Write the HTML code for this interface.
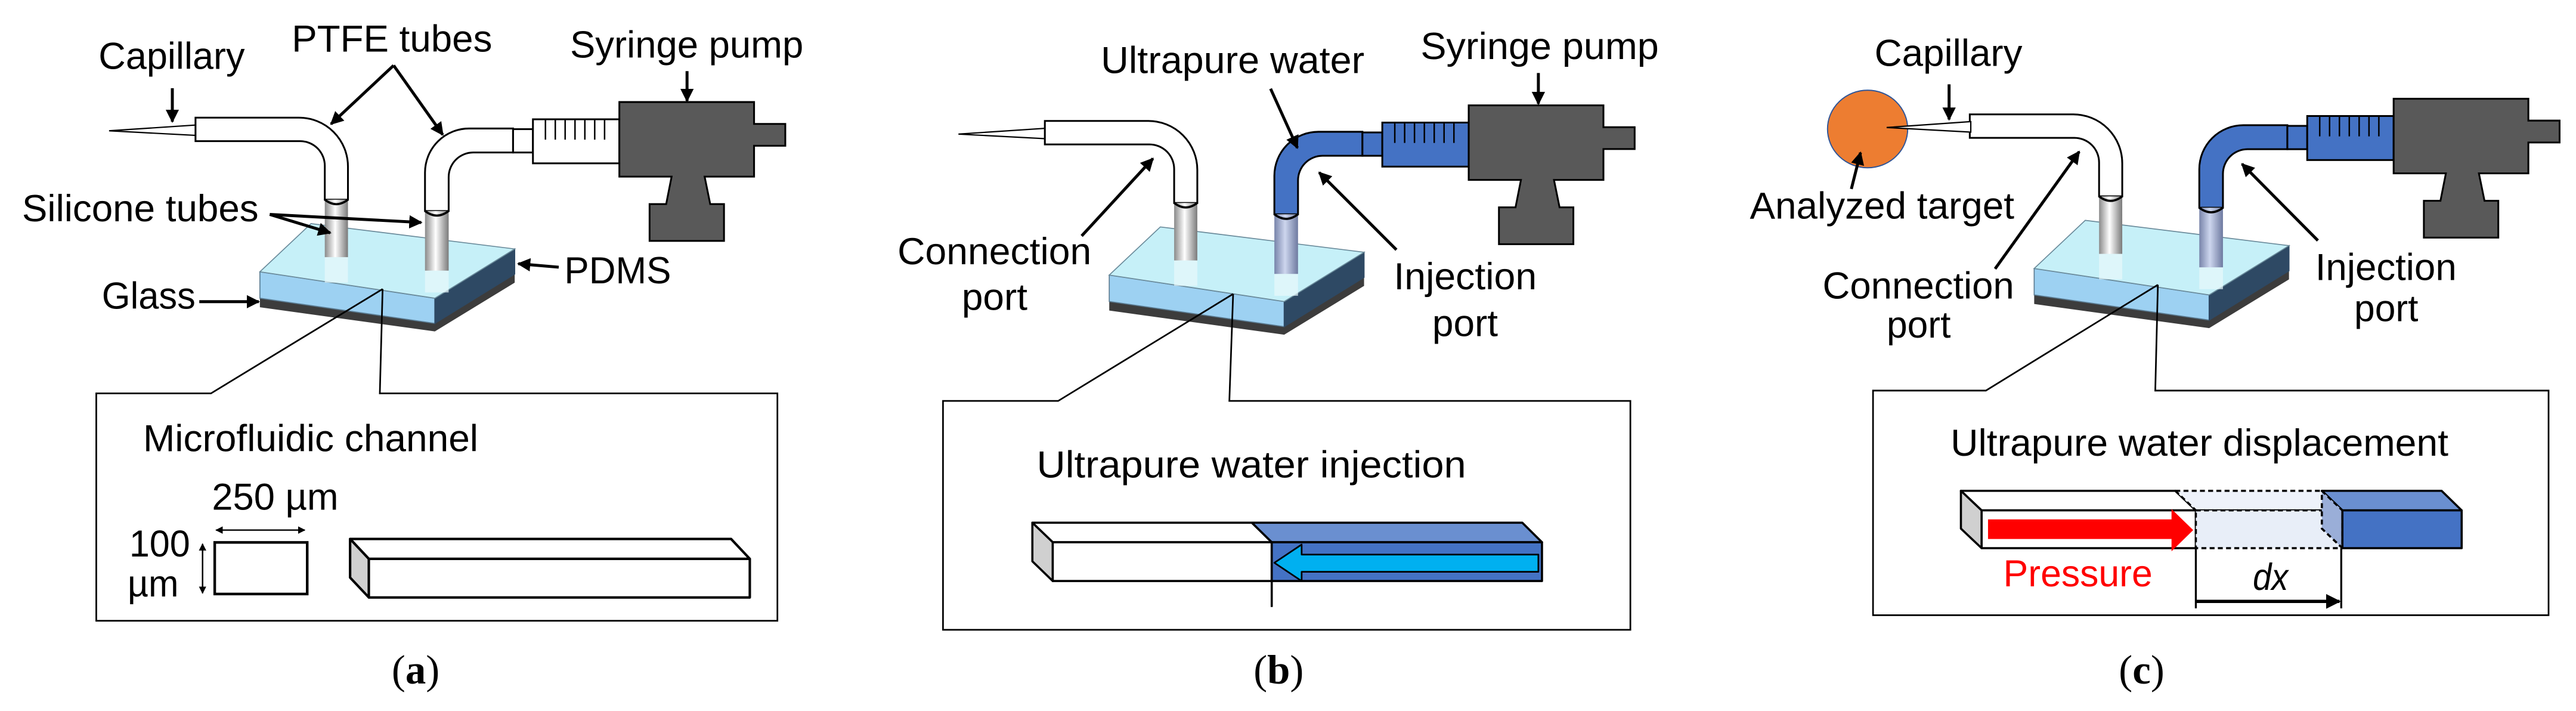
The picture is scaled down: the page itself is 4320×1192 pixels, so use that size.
<!DOCTYPE html>
<html><head><meta charset="utf-8"><style>
html,body{margin:0;padding:0;background:#fff;}
svg{display:block;}
text{font-family:"Liberation Sans",Arial,sans-serif;font-size:23px;fill:#000;}
.sf{font-family:"Liberation Serif","Times New Roman",serif;font-size:25px;}
</style></head><body>
<svg width="4320" height="1192" viewBox="0 0 1568 432.7" preserveAspectRatio="none" xmlns="http://www.w3.org/2000/svg">
<defs>
<marker id="ah" viewBox="0 0 10 10" refX="9" refY="5" markerWidth="4.5" markerHeight="4.5" orient="auto"><path d="M0,0 L10,5 L0,10 z" fill="#000"/></marker>
<marker id="ah2" viewBox="0 0 10 10" refX="9" refY="5" markerWidth="5" markerHeight="5" orient="auto-start-reverse"><path d="M0,0 L10,5 L0,10 z" fill="#000"/></marker>
<linearGradient id="sil" x1="0" x2="1" y1="0" y2="0"><stop offset="0" stop-color="#8a8a8a"/><stop offset="0.45" stop-color="#ffffff"/><stop offset="1" stop-color="#7a7a7a"/></linearGradient>
<linearGradient id="silb" x1="0" x2="1" y1="0" y2="0"><stop offset="0" stop-color="#7884aa"/><stop offset="0.45" stop-color="#cdd6ee"/><stop offset="1" stop-color="#6e7aa0"/></linearGradient>
</defs>

<!-- ================= PANEL A ================= -->
<g id="devA" stroke="#000" stroke-width="1.1">
  <polygon points="158.2,181.5 264.7,196.8 313.3,166.8 313.3,172 264.7,201.7 158.2,187" fill="#3c3c3c" stroke="none"/>
  <polygon points="158.2,165.4 264.7,181.5 264.7,196.8 158.2,181.5" fill="#9dd1f2" stroke="#5a7a90" stroke-width="0.6"/>
  <polygon points="264.7,181.5 313.3,151.5 313.3,166.8 264.7,196.8" fill="#2e4964" stroke="#2e4964" stroke-width="0.6"/>
  <polygon points="158.2,165.4 189.3,136.1 313.3,151.5 264.7,181.5" fill="#c6f0f8" stroke="#6a8a9a" stroke-width="0.6"/>
  <rect x="197.7" y="150" width="14.1" height="22" fill="#e8f8fb" stroke="none" opacity="0.7"/>
  <rect x="258.7" y="158" width="14.4" height="20" fill="#e8f8fb" stroke="none" opacity="0.7"/>
  <polygon points="66.4,79.6 119,76.1 119,82.4" fill="#fff" stroke-width="0.8"/>
  <path d="M119,71.6 H182 A29.8,29.8 0 0 1 211.8,101.4 V121.5 H197.7 V101 A15,15 0 0 0 182.7,85.9 H119 Z" fill="#fff"/>
  <rect x="197.7" y="121.5" width="14.1" height="35" fill="url(#sil)" stroke="none"/>
  <path d="M197.7,121.5 Q204.7,127 211.8,121.5" fill="none" stroke-width="1.3"/>
  <path d="M258.7,128.4 V105 A26.8,26.8 0 0 1 285.5,78.2 H312.3 V92.8 H288 A15,15 0 0 0 273.1,107.8 V128.4 Z" fill="#fff"/>
  <rect x="258.7" y="128.4" width="14.4" height="36.3" fill="url(#sil)" stroke="none"/>
  <path d="M258.7,128.4 Q265.9,134 273.1,128.4" fill="none" stroke-width="1.3"/>
  <rect x="312.3" y="78.6" width="12.1" height="14.2" fill="#fff"/>
  <rect x="324.4" y="72.6" width="52.6" height="26.8" fill="#fff"/>
  <path d="M332,72.6V85 M338,72.6V85 M344,72.6V85 M350,72.6V85 M356,72.6V85 M362,72.6V85 M368,72.6V85" stroke-width="0.9"/>
  <path d="M377,62.1 H459 V75.4 H478 V88.7 H459 V107.5 H428.9 L432.3,124.2 H440.7 V146.6 H395.4 V124.2 H405.5 L408.8,107.5 H377 Z" fill="#595959"/>
</g>
<g fill="none" stroke="#000" stroke-width="1.8" marker-end="url(#ah)">
  <line x1="104.9" y1="53.7" x2="104.9" y2="74"/>
  <line x1="239.6" y1="39.8" x2="201.5" y2="75.5"/>
  <line x1="239.6" y1="39.8" x2="269.5" y2="82"/>
  <line x1="418.2" y1="43.3" x2="418.2" y2="61.4"/>
  <line x1="164.2" y1="130.5" x2="201" y2="141.7"/>
  <line x1="164.2" y1="130.5" x2="256.4" y2="135.4"/>
  <line x1="340.1" y1="162.6" x2="315.5" y2="160.5"/>
  <line x1="121.3" y1="183.6" x2="157.5" y2="183.6"/>
</g>
<text x="60" y="41.9" textLength="89" lengthAdjust="spacingAndGlyphs">Capillary</text>
<text x="177.6" y="31.4" textLength="122" lengthAdjust="spacingAndGlyphs">PTFE tubes</text>
<text x="347" y="35" textLength="142" lengthAdjust="spacingAndGlyphs">Syringe pump</text>
<text x="13.4" y="134.7" textLength="144" lengthAdjust="spacingAndGlyphs">Silicone tubes</text>
<text x="343.5" y="172.4" textLength="65" lengthAdjust="spacingAndGlyphs">PDMS</text>
<text x="62" y="187.8" textLength="57" lengthAdjust="spacingAndGlyphs">Glass</text>
<g fill="none" stroke="#000" stroke-width="1">
  <polyline points="232.9,175.9 128.4,239.4 58.6,239.4 58.6,377.8 473.2,377.8 473.2,239.4 231.2,239.4 232.9,175.9"/>
</g>
<text x="87.1" y="274.6" textLength="204" lengthAdjust="spacingAndGlyphs">Microfluidic channel</text>
<text x="129" y="310.2" textLength="77" lengthAdjust="spacingAndGlyphs">250 µm</text>
<text x="78.7" y="338.7" textLength="37" lengthAdjust="spacingAndGlyphs">100</text>
<text x="77.7" y="363" textLength="31" lengthAdjust="spacingAndGlyphs">µm</text>
<line x1="131.5" y1="322.6" x2="185.5" y2="322.6" stroke="#000" stroke-width="0.9" marker-start="url(#ah2)" marker-end="url(#ah2)"/>
<line x1="123.3" y1="331" x2="123.3" y2="361" stroke="#000" stroke-width="0.9" marker-start="url(#ah2)" marker-end="url(#ah2)"/>
<rect x="130.7" y="330.1" width="56.3" height="31.4" fill="#fff" stroke="#000" stroke-width="1.6"/>
<g stroke="#000" stroke-width="1.5" stroke-linejoin="round">
  <polygon points="213.1,328 445,328 456.4,340.1 224.5,340.1" fill="#fff"/>
  <polygon points="213.1,328 224.5,340.1 224.5,363.6 213.1,351.5" fill="#d0d0d0"/>
  <rect x="224.5" y="340.1" width="231.9" height="23.5" fill="#fff"/>
</g>
<text class="sf" x="253" y="416" text-anchor="middle">(<tspan font-weight="bold">a</tspan>)</text>

<!-- ================= PANEL B ================= -->
<g transform="translate(517,2)" stroke="#000" stroke-width="1.1">
  <polygon points="158.2,181.5 264.7,196.8 313.3,166.8 313.3,172 264.7,201.7 158.2,187" fill="#3c3c3c" stroke="none"/>
  <polygon points="158.2,165.4 264.7,181.5 264.7,196.8 158.2,181.5" fill="#9dd1f2" stroke="#5a7a90" stroke-width="0.6"/>
  <polygon points="264.7,181.5 313.3,151.5 313.3,166.8 264.7,196.8" fill="#2e4964" stroke="#2e4964" stroke-width="0.6"/>
  <polygon points="158.2,165.4 189.3,136.1 313.3,151.5 264.7,181.5" fill="#c6f0f8" stroke="#6a8a9a" stroke-width="0.6"/>
  <rect x="197.7" y="150" width="14.1" height="22" fill="#e8f8fb" stroke="none" opacity="0.7"/>
  <rect x="258.7" y="158" width="14.4" height="20" fill="#e8f8fb" stroke="none" opacity="0.7"/>
  <polygon points="66.4,79.6 119,76.1 119,82.4" fill="#fff" stroke-width="0.8"/>
  <path d="M119,71.6 H182 A29.8,29.8 0 0 1 211.8,101.4 V121.5 H197.7 V101 A15,15 0 0 0 182.7,85.9 H119 Z" fill="#fff"/>
  <rect x="197.7" y="121.5" width="14.1" height="35" fill="url(#sil)" stroke="none"/>
  <path d="M197.7,121.5 Q204.7,127 211.8,121.5" fill="none" stroke-width="1.3"/>
  <path d="M258.7,128.4 V105 A26.8,26.8 0 0 1 285.5,78.2 H312.3 V92.8 H288 A15,15 0 0 0 273.1,107.8 V128.4 Z" fill="#4472c4"/>
  <rect x="258.7" y="128.4" width="14.4" height="36.3" fill="url(#silb)" stroke="none"/>
  <path d="M258.7,128.4 Q265.9,134 273.1,128.4" fill="none" stroke-width="1.3"/>
  <rect x="312.3" y="78.6" width="12.1" height="14.2" fill="#4472c4"/>
  <rect x="324.4" y="72.6" width="52.6" height="26.8" fill="#4472c4"/>
  <path d="M332,72.6V85 M338,72.6V85 M344,72.6V85 M350,72.6V85 M356,72.6V85 M362,72.6V85 M368,72.6V85" stroke-width="0.9"/>
  <path d="M377,62.1 H459 V75.4 H478 V88.7 H459 V107.5 H428.9 L432.3,124.2 H440.7 V146.6 H395.4 V124.2 H405.5 L408.8,107.5 H377 Z" fill="#595959"/>
</g>
<g fill="none" stroke="#000" stroke-width="1.8" marker-end="url(#ah)">
  <line x1="773.4" y1="54" x2="789.7" y2="90"/>
  <line x1="936.4" y1="44.4" x2="936.4" y2="63.2"/>
  <line x1="658.4" y1="143.6" x2="701.8" y2="96.5"/>
  <line x1="850" y1="152" x2="803" y2="105"/>
</g>
<text x="670.1" y="44.4" textLength="160.4" lengthAdjust="spacingAndGlyphs">Ultrapure water</text>
<text x="864.7" y="36" textLength="145" lengthAdjust="spacingAndGlyphs">Syringe pump</text>
<text x="546.3" y="160.8" textLength="118" lengthAdjust="spacingAndGlyphs">Connection</text>
<text x="585.4" y="188.6" textLength="40" lengthAdjust="spacingAndGlyphs">port</text>
<text x="848.4" y="176" textLength="87" lengthAdjust="spacingAndGlyphs">Injection</text>
<text x="871.8" y="204.5" textLength="40" lengthAdjust="spacingAndGlyphs">port</text>
<polyline points="750.6,178.9 644.1,244 574,244 574,383.3 992.4,383.3 992.4,244 748.3,244 750.6,178.9" fill="none" stroke="#000" stroke-width="1"/>
<text x="631" y="290.6" textLength="261.4" lengthAdjust="spacingAndGlyphs">Ultrapure water  injection</text>
<g stroke="#000" stroke-width="1.3" stroke-linejoin="round">
  <polygon points="628.4,318.1 762,318.1 774.1,330 640.8,330" fill="#fff"/>
  <polygon points="762,318.1 926.6,318.1 938.6,330 774.1,330" fill="#6a8fd0"/>
  <polygon points="628.4,318.1 640.8,330 640.8,353.6 628.4,341.6" fill="#d0d0d0"/>
  <rect x="640.8" y="330" width="133.3" height="23.6" fill="#fff"/>
  <rect x="774.1" y="330" width="164.5" height="23.6" fill="#4472c4"/>
  <polygon points="775.7,342.5 792.3,331.4 792.3,337.5 936.4,337.5 936.4,348 792.3,348 792.3,353.6" fill="#00b0f0" stroke-width="1"/>
  <line x1="774.1" y1="330" x2="774.1" y2="369.4"/>
</g>
<text class="sf" x="778.3" y="416" text-anchor="middle">(<tspan font-weight="bold">b</tspan>)</text>

<!-- ================= PANEL C ================= -->
<g transform="translate(1080,-2)" stroke="#000" stroke-width="1.1">
  <polygon points="158.2,181.5 264.7,196.8 313.3,166.8 313.3,172 264.7,201.7 158.2,187" fill="#3c3c3c" stroke="none"/>
  <polygon points="158.2,165.4 264.7,181.5 264.7,196.8 158.2,181.5" fill="#9dd1f2" stroke="#5a7a90" stroke-width="0.6"/>
  <polygon points="264.7,181.5 313.3,151.5 313.3,166.8 264.7,196.8" fill="#2e4964" stroke="#2e4964" stroke-width="0.6"/>
  <polygon points="158.2,165.4 189.3,136.1 313.3,151.5 264.7,181.5" fill="#c6f0f8" stroke="#6a8a9a" stroke-width="0.6"/>
  <rect x="197.7" y="150" width="14.1" height="22" fill="#e8f8fb" stroke="none" opacity="0.7"/>
  <rect x="258.7" y="158" width="14.4" height="20" fill="#e8f8fb" stroke="none" opacity="0.7"/>
  <path d="M119,71.6 H182 A29.8,29.8 0 0 1 211.8,101.4 V121.5 H197.7 V101 A15,15 0 0 0 182.7,85.9 H119 Z" fill="#fff"/>
  <rect x="197.7" y="121.5" width="14.1" height="35" fill="url(#sil)" stroke="none"/>
  <path d="M197.7,121.5 Q204.7,127 211.8,121.5" fill="none" stroke-width="1.3"/>
  <path d="M258.7,128.4 V105 A26.8,26.8 0 0 1 285.5,78.2 H312.3 V92.8 H288 A15,15 0 0 0 273.1,107.8 V128.4 Z" fill="#4472c4"/>
  <rect x="258.7" y="128.4" width="14.4" height="36.3" fill="url(#silb)" stroke="none"/>
  <path d="M258.7,128.4 Q265.9,134 273.1,128.4" fill="none" stroke-width="1.3"/>
  <rect x="312.3" y="78.6" width="12.1" height="14.2" fill="#4472c4"/>
  <rect x="324.4" y="72.6" width="52.6" height="26.8" fill="#4472c4"/>
  <path d="M332,72.6V85 M338,72.6V85 M344,72.6V85 M350,72.6V85 M356,72.6V85 M362,72.6V85 M368,72.6V85" stroke-width="0.9"/>
  <path d="M377,62.1 H459 V75.4 H478 V88.7 H459 V107.5 H428.9 L432.3,124.2 H440.7 V146.6 H395.4 V124.2 H405.5 L408.8,107.5 H377 Z" fill="#595959"/>
</g>
<ellipse cx="1136.8" cy="78.5" rx="24.4" ry="23.6" fill="#ed7d31" stroke="#2f5597" stroke-width="0.7"/>
<polygon points="1148.4,77.6 1199.6,74 1199.6,80.4" fill="#fff" stroke="#000" stroke-width="0.8"/>
<g fill="none" stroke="#000" stroke-width="1.8" marker-end="url(#ah)">
  <line x1="1186.4" y1="51.3" x2="1186.4" y2="72.7"/>
  <line x1="1126.9" y1="115" x2="1132.5" y2="92.9"/>
  <line x1="1214.4" y1="163.6" x2="1265.6" y2="92.3"/>
  <line x1="1410.9" y1="146.4" x2="1364.7" y2="99.8"/>
</g>
<text x="1141" y="40.2" textLength="90" lengthAdjust="spacingAndGlyphs">Capillary</text>
<text x="1065.1" y="133.1" textLength="161" lengthAdjust="spacingAndGlyphs">Analyzed target</text>
<text x="1109.4" y="181.6" textLength="116.6" lengthAdjust="spacingAndGlyphs">Connection</text>
<text x="1148.4" y="205.5" textLength="39" lengthAdjust="spacingAndGlyphs">port</text>
<text x="1409.3" y="170.5" textLength="86" lengthAdjust="spacingAndGlyphs">Injection</text>
<text x="1433" y="195.5" textLength="39" lengthAdjust="spacingAndGlyphs">port</text>
<polyline points="1313.5,173.3 1208.8,237.7 1140.1,237.7 1140.1,374.4 1551.3,374.4 1551.3,237.7 1311.9,237.7 1313.5,173.3" fill="none" stroke="#000" stroke-width="1"/>
<text x="1187.3" y="277.3" textLength="303" lengthAdjust="spacingAndGlyphs">Ultrapure water displacement</text>
<g stroke="#000" stroke-width="1.3" stroke-linejoin="round">
  <polygon points="1193.6,298.7 1324.1,298.7 1336.6,310.6 1206.2,310.6" fill="#fff"/>
  <polygon points="1193.6,298.7 1206.2,310.6 1206.2,333.6 1193.6,321.7" fill="#d0d0d0"/>
  <rect x="1206.2" y="310.6" width="130.4" height="23" fill="#fff"/>
  <polygon points="1324.1,298.7 1413.3,298.7 1425.8,310.6 1336.6,310.6" fill="#eef2fa" stroke-dasharray="3,2"/>
  <rect x="1336.6" y="310.6" width="89.2" height="23" fill="#e8eef8" stroke-dasharray="3,2"/>
  <polygon points="1413.3,298.7 1486.2,298.7 1498.4,310.6 1425.8,310.6" fill="#6a8fd0"/>
  <polygon points="1413.3,298.7 1425.8,310.6 1425.8,333.6 1413.3,321.7" fill="#9aaed8" stroke-dasharray="3,2"/>
  <rect x="1425.8" y="310.6" width="72.6" height="23" fill="#4472c4"/>
</g>
<polygon points="1210.1,316.1 1321.8,316.1 1321.8,309.8 1335,322.6 1321.8,335.5 1321.8,328 1210.1,328" fill="#ff0000"/>
<text x="1219.4" y="356.9" textLength="90.8" lengthAdjust="spacingAndGlyphs" style="fill:#ff0000">Pressure</text>
<text x="1371.3" y="359" textLength="21.5" lengthAdjust="spacingAndGlyphs" font-style="italic">dx</text>
<g stroke="#000" stroke-width="1.2">
  <line x1="1336.6" y1="333.6" x2="1336.6" y2="370.2"/>
  <line x1="1425.1" y1="333.6" x2="1425.1" y2="370.2"/>
</g>
<line x1="1336.6" y1="366" x2="1424" y2="366" stroke="#000" stroke-width="2" marker-end="url(#ah)"/>
<text class="sf" x="1303.6" y="416" text-anchor="middle">(<tspan font-weight="bold">c</tspan>)</text>
</svg>
</body></html>
